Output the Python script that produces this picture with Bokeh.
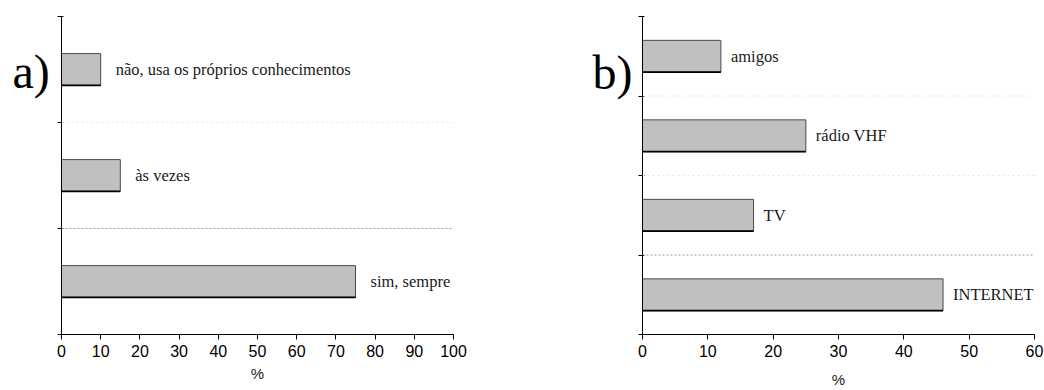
from bokeh.plotting import figure
from bokeh.models import (ColumnDataSource, Range1d, FixedTicker, Span,
                          CustomLabelingPolicy)
from bokeh.layouts import row
from bokeh.embed import file_html
from bokeh.resources import INLINE
from bokeh.core.properties import value

# ---- data ----
a_categories = ["sim, sempre", "às vezes", "não, usa os próprios conhecimentos"]
a_values = [75, 15, 10]
a_ticks = [0, 10, 20, 30, 40, 50, 60, 70, 80, 90, 100]

b_categories = ["INTERNET", "TV", "rádio VHF", "amigos"]
b_values = [46, 17, 25, 12]
b_ticks = [0, 10, 20, 30, 40, 50, 60]

SERIF = "Liberation Serif"
SANS = "Liberation Sans"
H = 390
FRAME_H = 319


def letter_panel(letter, width, tx, ty):
    # small figure whose data space equals its pixel space (y down)
    p = figure(width=width, height=H, output_backend="svg",
               toolbar_location=None, x_axis_location=None,
               y_axis_location=None, min_border=0,
               x_range=Range1d(0, width), y_range=Range1d(H, 0))
    p.outline_line_color = None
    p.grid.visible = False
    p.text(x=[tx], y=[ty], text=[letter], text_font=value(SERIF),
           text_font_size="48px", text_baseline="alphabetic",
           text_align="left", text_color="black")
    return p


def make_panel(cats, vals, ticks, width, bl, br, bar_h, lab_off,
               faint_lines, xlab_standoff):
    n = len(cats)
    ys = [i + 0.5 for i in range(n)]
    src = ColumnDataSource(dict(
        y=ys, v=vals, cat=cats, bot=[y - bar_h / 2 for y in ys]))
    p = figure(width=width, height=H, output_backend="svg",
               toolbar_location=None,
               x_range=Range1d(0, ticks[-1]), y_range=Range1d(0, n),
               min_border_left=bl, min_border_right=br,
               min_border_top=16, min_border_bottom=H - 16 - FRAME_H)
    p.outline_line_color = None
    p.grid.visible = False
    p.background_fill_color = "white"
    p.border_fill_color = "white"

    # dotted separators
    p.add_layout(Span(location=1, dimension="width", line_color="#9a9a9a",
                      line_dash="2 2", line_width=1))
    for loc in faint_lines:
        p.add_layout(Span(location=loc, dimension="width", line_color="#e4e4e4",
                          line_dash="2 3", line_width=1))

    p.hbar(y="y", left=0, right="v", height=bar_h, source=src,
           fill_color="#c0c0c0", line_color="#4a4a4a", line_width=1)
    p.segment(x0=0, y0="bot", x1="v", y1="bot", source=src,
              line_color="black", line_width=1.6)
    p.text(x="v", y="y", text="cat", source=src, x_offset=lab_off,
           text_baseline="middle", text_align="left",
           text_font=value(SERIF), text_font_size="16.5px", text_color="#1a1a1a")

    xa = p.xaxis[0]
    xa.ticker = FixedTicker(ticks=ticks)
    xa.major_label_text_font = SANS
    xa.major_label_text_font_size = "16px"
    xa.major_label_text_color = "black"
    xa.major_label_standoff = 5
    xa.major_tick_out = 5
    xa.major_tick_in = 0
    xa.minor_tick_line_color = None
    xa.axis_line_color = "black"
    xa.major_tick_line_color = "black"
    xa.axis_label = "%"
    xa.axis_label_text_font = SANS
    xa.axis_label_text_font_style = "normal"
    xa.axis_label_text_font_size = "15px"
    xa.axis_label_text_color = "#222"
    xa.axis_label_standoff = xlab_standoff

    ya = p.yaxis[0]
    ya.ticker = FixedTicker(ticks=list(range(n + 1)))
    ya.major_label_policy = CustomLabelingPolicy(
        code="const all = [...indices]; for (const i of all) indices.unset(i); return indices")
    ya.major_label_text_font_size = "1px"
    ya.major_label_standoff = 0
    ya.major_tick_out = 4
    ya.major_tick_in = 2
    ya.minor_tick_line_color = None
    ya.axis_line_color = "black"
    ya.major_tick_line_color = "black"
    return p


la = letter_panel("a)", 53, 12, 67)
pa = make_panel(a_categories, a_values, a_ticks, 507, 8, 107, 0.3, 15, [2], 5)
lb = letter_panel("b)", 74, 32, 69)
pb = make_panel(b_categories, b_values, b_ticks, 410, 8, 10, 0.4, 10, [2, 3], 11)

layout = row(la, pa, lb, pb)
open("out.html", "w").write(file_html(layout, INLINE))
